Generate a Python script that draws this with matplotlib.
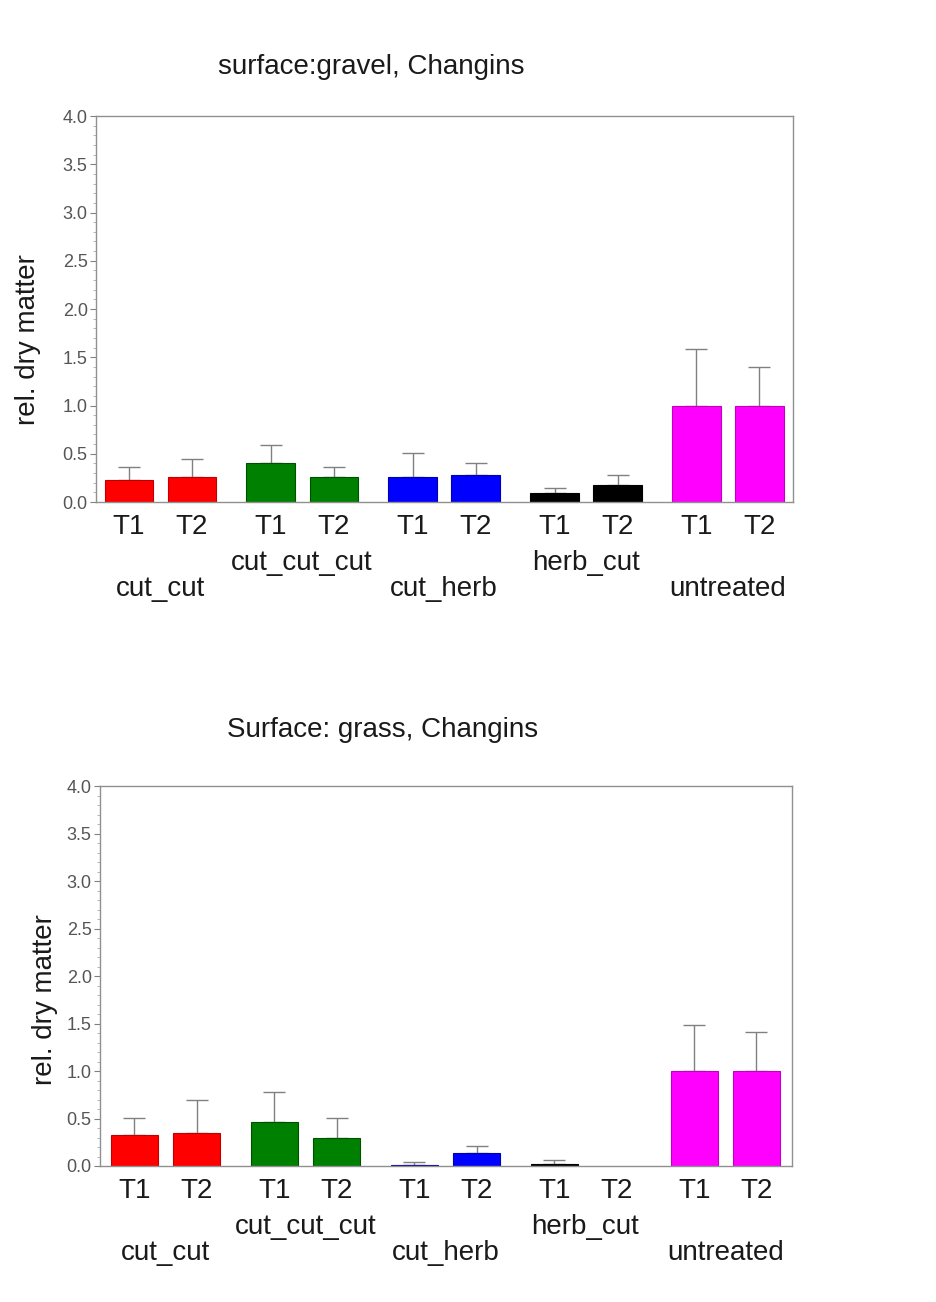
import matplotlib
matplotlib.use("Agg")
import matplotlib.pyplot as plt
from matplotlib.ticker import MultipleLocator
import numpy as np

plt.rcParams['font.family'] = ['Liberation Sans', 'DejaVu Sans']

groups = ["cut_cut", "cut_cut_cut", "cut_herb", "herb_cut", "untreated"]
times = ["T1", "T2"]
colors = ["#FF0000", "#008000", "#0000FF", "#000000", "#FF00FF"]
edge_colors = ["#C00000", "#005000", "#0000B0", "#000000", "#C000C0"]

gravel_means = [[0.23, 0.26], [0.40, 0.26], [0.255, 0.275], [0.095, 0.18], [1.0, 1.0]]
gravel_upper = [[0.36, 0.45], [0.59, 0.36], [0.505, 0.40], [0.15, 0.275], [1.59, 1.40]]

grass_means = [[0.33, 0.345], [0.46, 0.295], [0.01, 0.133], [0.02, 0.0], [1.0, 1.0]]
grass_upper = [[0.51, 0.70], [0.78, 0.51], [0.045, 0.214], [0.067, 0.0], [1.48, 1.414]]

titles = ["surface:gravel, Changins", "Surface: grass, Changins"]
ylabel = "rel. dry matter"
yticks = [0.0, 0.5, 1.0, 1.5, 2.0, 2.5, 3.0, 3.5, 4.0]

W, H = 936, 1302
fig = plt.figure(figsize=(W / 100, H / 100), dpi=100)

panels = [
    dict(rect=(96, 116, 793, 502), means=gravel_means, upper=gravel_upper,
         xlim=(-0.452, 4.458), title=titles[0], title_xy=(371, 67), ylab_xy=(28, 340)),
    dict(rect=(100, 786, 792, 1166), means=grass_means, upper=grass_upper,
         xlim=(-0.468, 4.476), title=titles[1], title_xy=(383, 730), ylab_xy=(45, 1000)),
]

bar_w = 0.34
offset = 0.222
grey = "#808080"
text_col = "#1a1a1a"
fs = 20

for p in panels:
    l, t, r, b = p["rect"]
    ax = fig.add_axes([l / W, 1 - b / H, (r - l) / W, (b - t) / H])
    for gi, g in enumerate(groups):
        for ti, tm in enumerate(times):
            x = gi + (offset if ti else -offset)
            m = p["means"][gi][ti]
            u = p["upper"][gi][ti]
            if m > 0:
                ax.bar(x, m, width=bar_w, color=colors[gi], edgecolor=edge_colors[gi],
                       linewidth=0.8, zorder=2)
            if u > m:
                ax.errorbar([x], [m], yerr=[[0], [u - m]], fmt="none", ecolor=grey,
                            elinewidth=1.0, capsize=8, capthick=1.0, zorder=1)
            ax.annotate(tm, xy=(x, 0), xycoords=("data", "axes fraction"),
                        xytext=(0, -25 * 0.72), textcoords="offset points",
                        ha="center", va="center", fontsize=fs, color=text_col)
        dy = 61 if gi % 2 == 1 else 87
        ax.annotate(g, xy=(gi, 0), xycoords=("data", "axes fraction"),
                    xytext=(0, -dy * 0.72), textcoords="offset points",
                    ha="center", va="center", fontsize=fs, color=text_col)
    ax.set_xlim(*p["xlim"])
    ax.set_ylim(0, 4.0)
    ax.set_yticks(yticks)
    ax.set_yticklabels([f"{v:.1f}" for v in yticks])
    ax.yaxis.set_minor_locator(MultipleLocator(0.1))
    ax.set_xticks([])
    ax.tick_params(axis="y", which="major", length=4, width=0.8, color=grey,
                   labelsize=13, labelcolor="#555555", pad=2)
    ax.tick_params(axis="y", which="minor", length=2, width=0.6, color="#aaaaaa")
    for s in ax.spines.values():
        s.set_color("#909090")
        s.set_linewidth(1.0)
    fig.text(p["title_xy"][0] / W, 1 - p["title_xy"][1] / H, p["title"],
             ha="center", va="center", fontsize=fs, color=text_col)
    fig.text(p["ylab_xy"][0] / W, 1 - p["ylab_xy"][1] / H, ylabel, rotation=90,
             ha="center", va="center", fontsize=fs, color=text_col)

fig.savefig("out.png", dpi=100, facecolor="white")
